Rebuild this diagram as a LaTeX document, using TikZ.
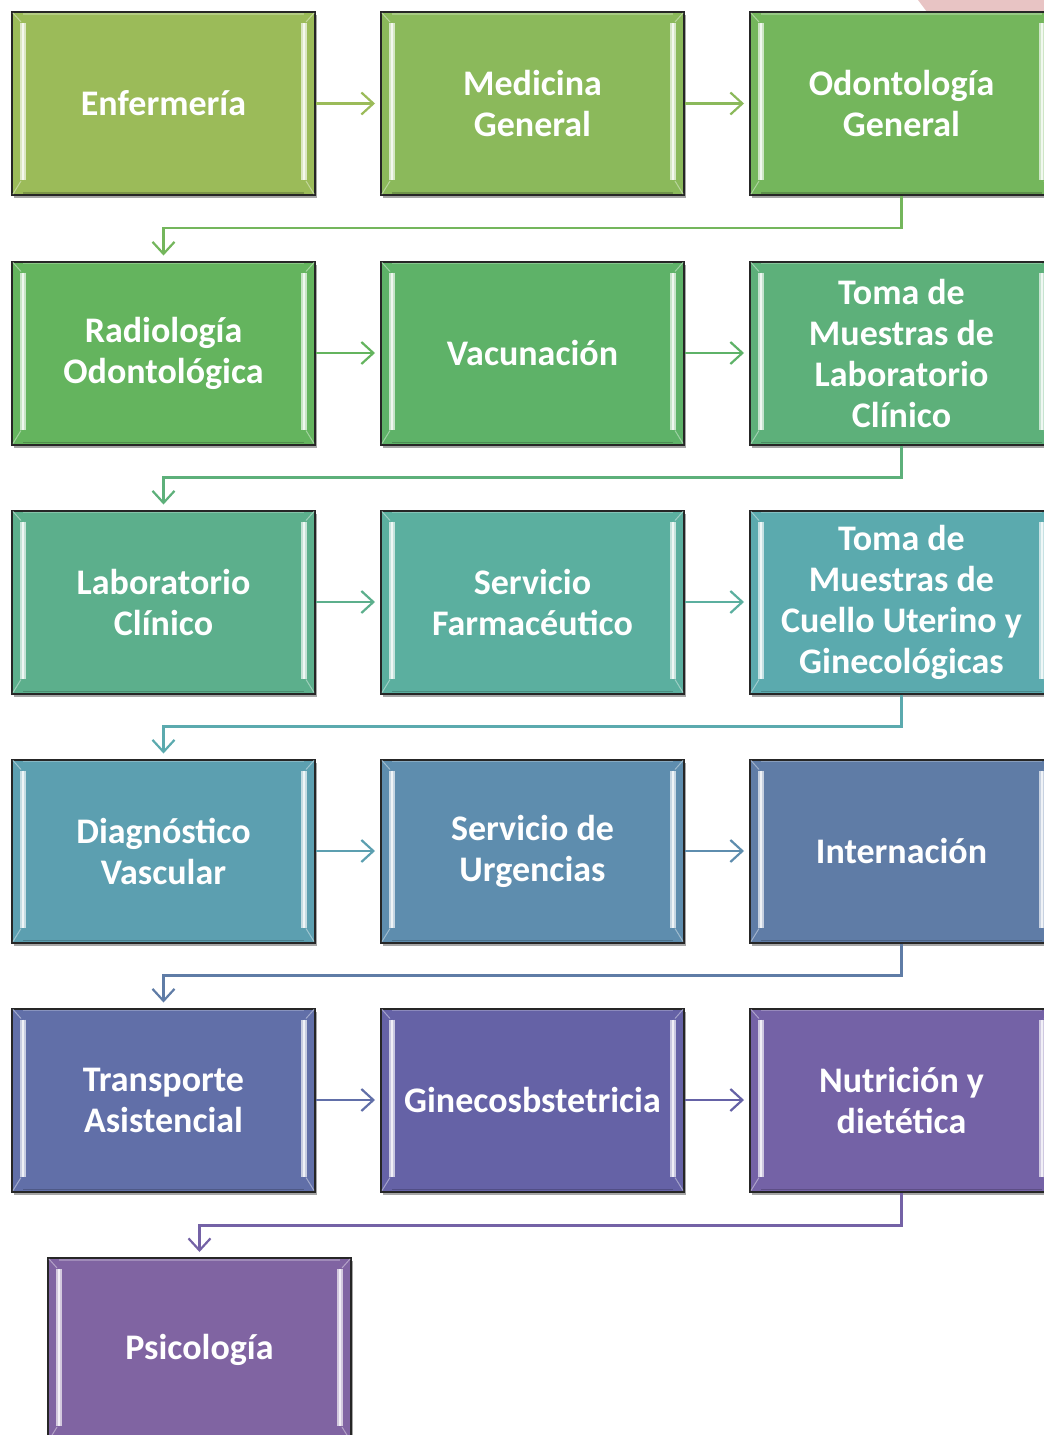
\documentclass[tikz,border=0pt]{standalone}
\usepackage{fontspec}
\setmainfont{Carlito}
\usetikzlibrary{arrows.meta,shadows}
\definecolor{pinkbg}{HTML}{E8C4C4}
\definecolor{cA}{HTML}{9BBB59}
\definecolor{cB}{HTML}{8BB95B}
\definecolor{cC}{HTML}{74B65C}
\definecolor{cD}{HTML}{64B45E}
\definecolor{cE}{HTML}{5EB268}
\definecolor{cF}{HTML}{5DB07A}
\definecolor{cG}{HTML}{5CAF8C}
\definecolor{cH}{HTML}{5BAF9F}
\definecolor{cI}{HTML}{5BAAAE}
\definecolor{cJ}{HTML}{5C9FB0}
\definecolor{cK}{HTML}{5E8DAE}
\definecolor{cL}{HTML}{5F7CA6}
\definecolor{cM}{HTML}{616FA8}
\definecolor{cN}{HTML}{6562A6}
\definecolor{cO}{HTML}{7462A6}
\definecolor{cP}{HTML}{8064A2}
\newcommand\boxbevel[2]{%
  \draw[#2!35!white, line width=6pt] ([xshift=12pt,yshift=-12pt]#1.north west) -- ([xshift=12pt,yshift=16pt]#1.south west);
  \draw[white!90!#2, line width=2.4pt] ([xshift=12pt,yshift=-12pt]#1.north west) -- ([xshift=12pt,yshift=16pt]#1.south west);
  \draw[#2!35!white, line width=6pt] ([xshift=-12pt,yshift=-12pt]#1.north east) -- ([xshift=-12pt,yshift=16pt]#1.south east);
  \draw[white!90!#2, line width=2.4pt] ([xshift=-12pt,yshift=-12pt]#1.north east) -- ([xshift=-12pt,yshift=16pt]#1.south east);
  \draw[#2!60!white, line width=1pt] ([xshift=2pt,yshift=-2pt]#1.north west) -- ([xshift=10pt,yshift=-11pt]#1.north west);
  \draw[#2!60!white, line width=1pt] ([xshift=2pt,yshift=2pt]#1.south west) -- ([xshift=10pt,yshift=15pt]#1.south west);
  \draw[#2!60!white, line width=1pt] ([xshift=-2pt,yshift=-2pt]#1.north east) -- ([xshift=-10pt,yshift=-11pt]#1.north east);
  \draw[#2!60!white, line width=1pt] ([xshift=-2pt,yshift=2pt]#1.south east) -- ([xshift=-10pt,yshift=15pt]#1.south east);
  \draw[#2!75!white, line width=1.2pt] ([xshift=12pt,yshift=-3pt]#1.north west) -- ([xshift=-12pt,yshift=-3pt]#1.north east);
  \draw[#2!80!black, line width=1.2pt] ([xshift=12pt,yshift=3pt]#1.south west) -- ([xshift=-12pt,yshift=3pt]#1.south east);
}
\begin{document}
\begin{tikzpicture}[x=1pt,y=-1pt,
  box/.style={draw=black!85, line width=2pt, minimum width=303pt, minimum height=183pt,
    inner sep=0pt, text=white, font=\bfseries\fontsize{36}{41}\selectfont, align=center,
    drop shadow={shadow xshift=2pt,shadow yshift=-3pt,opacity=0.35,fill=black}},
  conn/.style={line width=2.2pt, -{Straight Barb[length=12pt,width=22pt,line width=2.2pt]}, shorten >=5pt}]
\useasboundingbox (0,0) rectangle (1044,1435);
\clip (0,0) rectangle (1044,1435);
\fill[pinkbg] (918,0) -- (1044,0) -- (1044,20) -- (933,20) -- cycle;

\node[box, fill=cA] (n1) at (163.5,103.5) {Enfermería};
\node[box, fill=cB] (n2) at (532.5,103.5) {Medicina\\General};
\node[box, fill=cC] (n3) at (901.5,103.5) {Odontología\\General};
\node[box, fill=cD] (n4) at (163.5,353) {Radiología\\Odontológica};
\node[box, fill=cE] (n5) at (532.5,353) {Vacunación};
\node[box, fill=cF] (n6) at (901.5,353) {Toma de\\Muestras de\\Laboratorio\\Clínico};
\node[box, fill=cG] (n7) at (163.5,602) {Laboratorio\\Clínico};
\node[box, fill=cH] (n8) at (532.5,602) {Servicio\\Farmacéutico};
\node[box, fill=cI] (n9) at (901.5,602) {Toma de\\Muestras de\\Cuello Uterino y\\Ginecológicas};
\node[box, fill=cJ] (n10) at (163.5,851) {Diagnóstico\\Vascular};
\node[box, fill=cK] (n11) at (532.5,851) {Servicio de\\Urgencias};
\node[box, fill=cL] (n12) at (901.5,851) {Internación};
\node[box, fill=cM] (n13) at (163.5,1100) {Transporte\\Asistencial};
\node[box, fill=cN] (n14) at (532.5,1100) {Ginecosbstetricia};
\node[box, fill=cO] (n15) at (901.5,1100) {Nutrición y\\dietética};
\node[box, fill=cP] (n16) at (199.5,1349.5) {Psicología};

\boxbevel{n1}{cA}\boxbevel{n2}{cB}\boxbevel{n3}{cC}\boxbevel{n4}{cD}
\boxbevel{n5}{cE}\boxbevel{n6}{cF}\boxbevel{n7}{cG}\boxbevel{n8}{cH}
\boxbevel{n9}{cI}\boxbevel{n10}{cJ}\boxbevel{n11}{cK}\boxbevel{n12}{cL}
\boxbevel{n13}{cM}\boxbevel{n14}{cN}\boxbevel{n15}{cO}\boxbevel{n16}{cP}

\draw[conn, cA] (n1) -- (n2);
\draw[conn, cB] (n2) -- (n3);
\draw[conn, cC] (n3.south) -- ++(0,32) -| (n4.north);
\draw[conn, cD] (n4) -- (n5);
\draw[conn, cE] (n5) -- (n6);
\draw[conn, cF] (n6.south) -- ++(0,32) -| (n7.north);
\draw[conn, cG] (n7) -- (n8);
\draw[conn, cH] (n8) -- (n9);
\draw[conn, cI] (n9.south) -- ++(0,32) -| (n10.north);
\draw[conn, cJ] (n10) -- (n11);
\draw[conn, cK] (n11) -- (n12);
\draw[conn, cL] (n12.south) -- ++(0,32) -| (n13.north);
\draw[conn, cM] (n13) -- (n14);
\draw[conn, cN] (n14) -- (n15);
\draw[conn, cO] (n15.south) -- ++(0,33) -| (n16.north);
\end{tikzpicture}
\end{document}
